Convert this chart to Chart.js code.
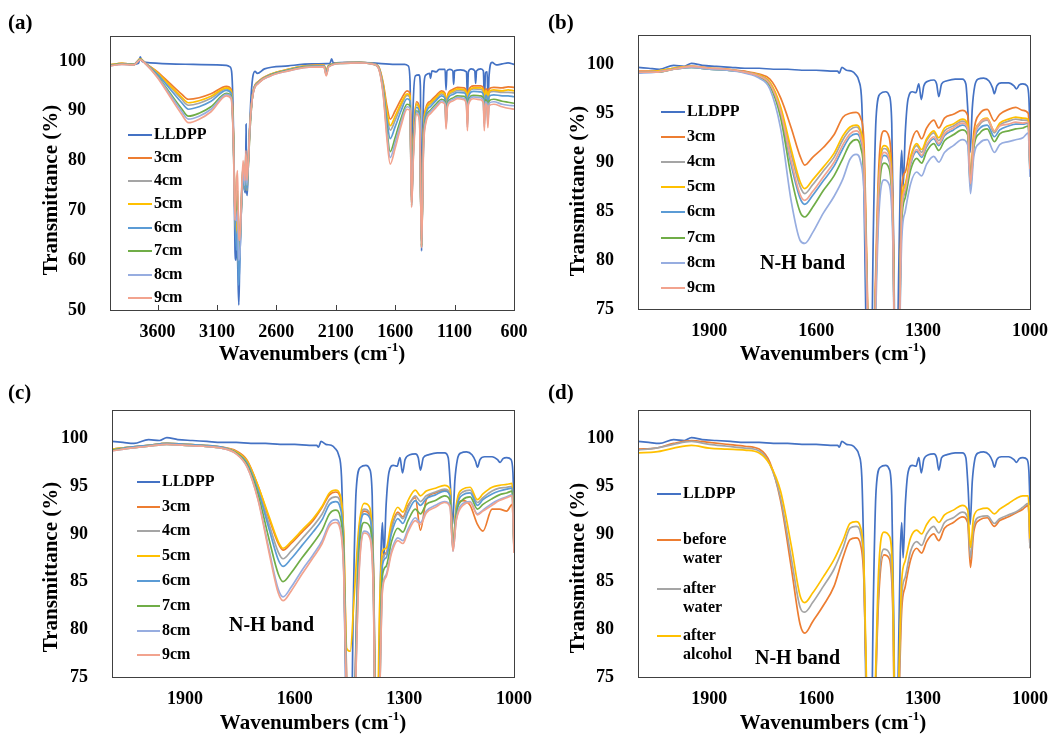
<!DOCTYPE html>
<html>
<head>
<meta charset="utf-8">
<script src="https://cdn.jsdelivr.net/npm/chart.js@4.4.1/dist/chart.umd.min.js"></script>
<style>
  html, body { margin: 0; padding: 0; background: #fff; }
  body { width: 1056px; height: 736px; overflow: hidden; position: relative; }
  canvas { position: absolute; }
</style>
</head>
<body>
<canvas id="panelA" width="560" height="368" style="left:0;top:0"></canvas>
<canvas id="panelC" width="560" height="368" style="left:0;top:368px"></canvas>
<canvas id="panelB" width="528" height="368" style="left:528px;top:0"></canvas>
<canvas id="panelD" width="528" height="368" style="left:528px;top:368px"></canvas>
<script>
// ---- panel (a): full range 4000-600 cm-1 ----
const xTicksA = [600, 1100, 1600, 2100, 2600, 3100, 3600];
const yTicksA = [50, 60, 70, 80, 90, 100];

const wnA_lldpp = [4000, 3900, 3800, 3760, 3745, 3730, 3700, 3500, 3300, 3100,
  3020, 2990, 2975, 2960, 2948, 2940, 2932, 2924, 2916, 2908,
  2895, 2880, 2868, 2860, 2855, 2850, 2845, 2835, 2815, 2800,
  2780, 2760, 2700, 2500, 2300, 2150, 2135, 2120, 2000, 1800,
  1600, 1520, 1490, 1475, 1462, 1450, 1430, 1400, 1388, 1378,
  1368, 1355, 1340, 1310, 1303, 1290, 1255, 1230, 1180, 1172,
  1164, 1140, 1115, 1108, 1100, 1050, 1000, 992, 984, 960,
  930, 923, 915, 880, 858, 849, 840, 826, 818, 810,
  785, 750, 700, 650, 600];
const tA_lldpp = [99.2, 99.4, 99.3, 99.5, 100.8, 99.9, 99.7, 99.4, 99.3, 99.2,
  99.1, 98.8, 97.5, 85, 62, 60, 66, 58, 51, 60,
  70, 76, 74, 73.5, 87.3, 74, 73, 80, 92, 96.5,
  97.9, 97.5, 98.4, 99.0, 99.4, 99.5, 100.4, 99.6, 99.7, 99.6,
  99.3, 99.3, 99.0, 96, 73, 90, 97.0, 97.2, 95, 61.8,
  85, 96.0, 97.2, 97.5, 96.5, 98.0, 97.8, 98.3, 98.3, 94.2,
  98.0, 98.3, 98.0, 95.3, 98.0, 98.2, 97.8, 92.7, 97.8, 98.4,
  98.0, 95.5, 98.0, 98.4, 98.0, 92.0, 97.6, 97.8, 91.3, 97.0,
  99.7, 99.2, 99.4, 99.6, 99.3];

const wnA = [4000, 3900, 3800, 3745, 3700, 3600, 3500, 3400, 3340, 3250,
  3150, 3020, 2980, 2962, 2948, 2935, 2927, 2918, 2908, 2895,
  2880, 2866, 2856, 2848, 2836, 2820, 2795, 2750, 2650, 2500,
  2350, 2200, 2180, 2160, 2050, 1900, 1780, 1740, 1700, 1670,
  1642, 1600, 1550, 1500, 1475, 1462, 1448, 1420, 1395, 1378,
  1362, 1340, 1300, 1250, 1210, 1180, 1172, 1160, 1120, 1075,
  1020, 1000, 992, 984, 940, 880, 858, 850, 840, 828,
  820, 810, 770, 700, 650, 600];
const tA_3cm = [99.2, 99.5, 99.3, 100.4, 99.5, 97.8, 95.6, 93.4, 92.3, 92.6,
  93.4, 94.9, 94.3, 86, 70, 66, 70, 60, 64, 71,
  78, 75, 80, 75, 80, 88, 94, 95.9, 97.3, 98.3,
  99.0, 99.2, 98.2, 99.1, 99.6, 99.7, 99.4, 98.9, 95.5, 91.0,
  88.3, 90.0, 92.3, 94.0, 93.5, 72, 84, 91.8, 90.5, 63,
  86, 90.7, 92.0, 93.2, 94.0, 93.5, 89.5, 93.0, 94.2, 94.7,
  94.6, 93.8, 91.0, 94.0, 95.0, 95.0, 94.6, 91.5, 94.4, 94.3,
  91.8, 94.4, 94.7, 94.6, 94.8, 94.7];
const tA_4cm = [99.2, 99.5, 99.3, 100.4, 99.5, 97.5, 95.0, 92.4, 91.1, 91.5,
  92.5, 94.4, 93.8, 85.5, 69.5, 66, 72, 62, 65, 72,
  79, 76, 81, 76, 81, 88, 93.9, 95.8, 97.2, 98.2,
  98.9, 99.1, 97.9, 99.0, 99.6, 99.7, 99.4, 98.8, 94.9, 89.4,
  86.1, 88.1, 91.0, 93.1, 92.6, 71.6, 83, 91.2, 89.9, 62.9,
  85, 90.0, 91.4, 92.6, 93.4, 92.9, 88.7, 92.5, 93.6, 94.1,
  94.0, 93.1, 89.8, 93.3, 94.4, 94.3, 93.9, 90.1, 93.7, 93.5,
  90.5, 93.6, 93.9, 93.7, 93.7, 93.6];
const tA_5cm = [99.2, 99.5, 99.3, 100.4, 99.5, 97.6, 95.2, 92.8, 91.6, 92.0,
  92.9, 94.6, 94.0, 85.7, 69.7, 64, 68, 58, 63, 70,
  77, 74, 79, 74, 79, 87, 93.9, 95.8, 97.3, 98.3,
  99.0, 99.1, 98.0, 99.1, 99.6, 99.7, 99.4, 98.8, 95.1, 90.0,
  87.0, 88.9, 91.5, 93.4, 93.0, 71.8, 83.4, 91.4, 90.1, 62.9,
  85.4, 90.3, 91.6, 92.8, 93.7, 93.2, 89.0, 92.7, 93.9, 94.4,
  94.2, 93.4, 90.2, 93.6, 94.6, 94.6, 94.2, 90.7, 94.0, 93.8,
  91.0, 93.9, 94.2, 94.0, 94.2, 94.0];
const tA_6cm = [99.1, 99.4, 99.3, 100.3, 99.5, 97.3, 94.5, 91.7, 90.3, 90.8,
  91.9, 94.1, 93.5, 85.1, 69.1, 62, 66, 55, 60, 70,
  77, 74, 79, 74, 79, 87, 93.8, 95.7, 97.2, 98.2,
  98.9, 99.0, 97.7, 99.0, 99.6, 99.7, 99.4, 98.7, 94.4, 88.2,
  84.4, 86.8, 90.0, 92.4, 92.0, 71.4, 82.3, 90.7, 89.4, 62.8,
  84.3, 89.4, 90.9, 92.2, 93.0, 92.5, 88.1, 92.1, 93.2, 93.7,
  93.6, 92.6, 88.8, 92.8, 93.9, 93.8, 93.3, 89.1, 93.1, 92.9,
  89.6, 92.9, 93.2, 93.0, 93.0, 92.8];
const tA_7cm = [99.1, 99.4, 99.2, 100.3, 99.4, 96.9, 93.7, 90.5, 88.9, 89.5,
  90.8, 93.5, 92.9, 84.6, 68.6, 70, 74, 63, 62, 71,
  79, 75, 81, 75, 80, 88, 93.6, 95.6, 97.1, 98.1,
  98.8, 98.9, 97.3, 98.9, 99.5, 99.6, 99.3, 98.6, 93.7, 86.3,
  81.8, 84.6, 88.5, 91.3, 91.0, 71.0, 81.1, 90.0, 88.7, 62.6,
  83.1, 88.5, 90.2, 91.5, 92.3, 91.8, 87.2, 91.4, 92.5, 93.0,
  92.9, 91.8, 87.4, 92.0, 93.1, 93.0, 92.4, 87.5, 92.2, 91.9,
  88.1, 92.0, 92.3, 91.9, 91.7, 91.5];
const tA_8cm = [99.0, 99.3, 99.2, 100.2, 99.4, 96.8, 93.4, 90.0, 88.3, 88.9,
  90.3, 93.3, 92.7, 84.3, 68.3, 68, 70, 60, 61, 70,
  78, 75, 80, 75, 80, 88, 93.6, 95.6, 97.0, 98.0,
  98.7, 98.9, 97.2, 98.8, 99.5, 99.6, 99.3, 98.6, 93.4, 85.4,
  80.6, 83.6, 87.7, 90.8, 90.5, 70.8, 80.6, 89.7, 88.4, 62.6,
  82.6, 88.1, 89.9, 91.1, 92.0, 91.5, 86.7, 91.1, 92.2, 92.7,
  92.5, 91.4, 86.7, 91.6, 92.8, 92.6, 92.0, 86.8, 91.8, 91.5,
  87.3, 91.5, 91.8, 91.3, 91.1, 91.0];
const tA_9cm = [99.0, 99.3, 99.2, 100.2, 99.4, 96.6, 93.0, 89.4, 87.6, 88.3,
  89.8, 93.0, 92.4, 84, 68, 76, 78, 66, 64, 72,
  80, 76, 82, 76, 80, 88, 93.5, 95.5, 97.0, 98.0,
  98.7, 98.8, 97.0, 98.8, 99.5, 99.6, 99.3, 98.5, 93.0, 84.5,
  79.3, 82.5, 87.0, 90.3, 90.0, 70.6, 80, 89.3, 88.0, 62.5,
  82, 87.7, 89.5, 90.8, 91.7, 91.2, 86.3, 90.8, 91.9, 92.4,
  92.2, 91.0, 86.0, 91.2, 92.4, 92.2, 91.6, 86.0, 91.4, 91.0,
  86.6, 91.0, 91.3, 90.8, 90.5, 90.3];

// ---- panels (b)-(d): 2100-1000 cm-1 ----
const xTicksZoom = [1000, 1300, 1600, 1900];
const yTicksZoom = [75, 80, 85, 90, 95, 100];

const wnZ_lldpp = [2100, 2070, 2040, 2000, 1970, 1950, 1920, 1880, 1840, 1800,
  1760, 1720, 1680, 1640, 1600, 1560, 1540, 1535, 1528, 1515,
  1500, 1490, 1480, 1472, 1465, 1458, 1448, 1440, 1432, 1420,
  1405, 1395, 1388, 1382, 1376, 1370, 1364, 1360, 1356, 1350,
  1342, 1330, 1320, 1312, 1305, 1298, 1285, 1270, 1262, 1256,
  1248, 1235, 1210, 1190, 1180, 1174, 1168, 1162, 1155, 1145,
  1130, 1115, 1105, 1100, 1093, 1080, 1060, 1045, 1038, 1030,
  1020, 1008, 1003, 1000];
const tZ_lldpp = [99.7, 99.6, 99.5, 99.9, 99.8, 100.1, 99.9, 99.8, 99.7, 99.6,
  99.6, 99.5, 99.5, 99.4, 99.4, 99.3, 99.3, 99.1, 99.7, 99.4,
  99.3, 99.0, 98.3, 96.0, 85, 68, 60, 82, 94.5, 97.0,
  97.2, 96.8, 94, 80, 60, 75, 88, 91.2, 87.5, 93,
  96.5, 97.2, 97.1, 98.0, 96.4, 97.8, 98.3, 98.4, 98.0, 96.7,
  98.0, 98.3, 98.5, 98.5, 98.0, 95, 91.0, 95.5, 97.8, 98.5,
  98.6, 98.3, 97.6, 97.0, 97.8, 98.1, 98.1, 97.8, 97.5, 97.9,
  98.0, 97.8, 96.5, 93.0];

const wnZ = [2100, 2050, 2000, 1950, 1900, 1850, 1800, 1760, 1730, 1700,
  1670, 1645, 1632, 1610, 1580, 1550, 1525, 1505, 1488, 1475,
  1466, 1458, 1448, 1438, 1425, 1410, 1395, 1385, 1376, 1368,
  1360, 1350, 1335, 1318, 1304, 1290, 1270, 1256, 1240, 1215,
  1190, 1175, 1167, 1158, 1140, 1120, 1100, 1085, 1060, 1040,
  1020, 1005, 1000];

// (b)
const tB_3cm = [99.3, 99.3, 99.6, 99.8, 99.6, 99.5, 99.3, 99.0, 98.5, 96.6,
  93.5, 90.6, 89.7, 90.5, 91.5, 92.8, 94.6, 95.0, 95.1, 94.5,
  92, 80, 62, 72, 89, 93.2, 92.5, 86, 62, 70,
  87.5, 89, 91.8, 93.2, 92.4, 93.5, 94.3, 93.5, 94.5, 94.9,
  95.3, 94.8, 88.6, 93.0, 95.0, 95.4, 94.2, 94.9, 95.4, 95.6,
  95.3, 95.0, 90.0];
const tB_4cm = [99.2, 99.3, 99.6, 99.8, 99.6, 99.5, 99.2, 98.9, 98.1, 95.5,
  90.8, 87.5, 86.8, 87.7, 89.1, 90.5, 92.3, 93.3, 93.6, 92.9,
  90.2, 78.6, 61.3, 70.6, 87.2, 91.4, 90.8, 84.6, 61.3, 69.3,
  85.5, 87.6, 90.4, 91.7, 91.0, 92.2, 93.0, 92.2, 93.2, 93.7,
  94.2, 93.7, 88.0, 92.1, 93.9, 94.3, 93.0, 93.8, 94.2, 94.4,
  94.3, 94.3, 89.5];
const tB_5cm = [99.2, 99.3, 99.6, 99.8, 99.6, 99.5, 99.2, 98.9, 98.2, 95.7,
  91.3, 88.0, 87.3, 88.2, 89.5, 90.9, 92.7, 93.6, 93.8, 93.2,
  90.5, 78.8, 61.4, 70.8, 87.5, 91.7, 91.1, 84.8, 61.4, 69.4,
  85.9, 87.8, 90.6, 91.9, 91.3, 92.4, 93.2, 92.5, 93.5, 93.9,
  94.4, 93.9, 88.1, 92.3, 94.1, 94.5, 93.2, 94.0, 94.4, 94.6,
  94.5, 94.4, 89.6];
const tB_6cm = [99.2, 99.2, 99.5, 99.7, 99.5, 99.4, 99.2, 98.8, 98.0, 95.0,
  89.7, 86.3, 85.7, 86.6, 88.1, 89.6, 91.4, 92.6, 92.9, 92.2,
  89.5, 78, 61, 70, 86.5, 90.7, 90.1, 84, 61, 69,
  84.7, 87, 89.8, 91.1, 90.5, 91.6, 92.4, 91.7, 92.7, 93.3,
  93.8, 93.3, 87.7, 91.7, 93.5, 93.8, 92.6, 93.3, 93.7, 93.9,
  93.9, 94.0, 89.2];
const tB_7cm = [99.2, 99.2, 99.5, 99.7, 99.5, 99.4, 99.2, 98.7, 97.8, 94.6,
  88.5, 84.9, 84.4, 85.4, 87.1, 88.6, 90.4, 91.9, 92.3, 91.5,
  88.7, 77.4, 60.7, 69.4, 85.7, 89.9, 89.3, 83.4, 60.7, 68.7,
  83.9, 86.4, 89.2, 90.4, 89.9, 91.1, 91.9, 91.2, 92.2, 92.8,
  93.3, 92.8, 87.4, 91.4, 93.0, 93.4, 92.1, 92.9, 93.2, 93.4,
  93.5, 93.7, 89.0];
const tB_8cm = [99.1, 99.2, 99.5, 99.7, 99.5, 99.4, 99.1, 98.6, 97.5, 93.5,
  86.0, 82.0, 81.7, 82.8, 84.8, 86.5, 88.3, 90.3, 90.8, 90.0,
  87, 76, 60, 68, 84, 88.2, 87.7, 82, 60, 68,
  82, 85, 87.8, 89.0, 88.6, 89.8, 90.6, 90.0, 91.0, 91.7,
  92.3, 91.8, 86.8, 90.5, 92.0, 92.3, 91.0, 91.8, 92.1, 92.3,
  92.5, 93.0, 88.5];
const tB_9cm = [99.2, 99.2, 99.5, 99.8, 99.6, 99.5, 99.2, 98.8, 98.0, 95.2,
  90.1, 86.7, 86.1, 87.0, 88.5, 90.0, 91.8, 92.9, 93.2, 92.5,
  89.8, 78.2, 61.1, 70.2, 86.8, 91.0, 90.3, 84.2, 61.1, 69.1,
  85.0, 87.2, 90.0, 91.3, 90.7, 91.8, 92.6, 91.9, 92.9, 93.5,
  94.0, 93.5, 87.8, 91.9, 94.1, 94.4, 93.2, 93.7, 93.9, 94.1,
  94.0, 94.1, 89.3];

// (c)
const tC_3cm = [98.9, 99.1, 99.3, 99.5, 99.4, 99.3, 99.1, 98.7, 97.7, 95.0,
  91.6, 89.0, 88.3, 89.0, 90.2, 91.4, 92.8, 94.1, 94.4, 93.8,
  89.6, 75, 62, 70, 89.5, 92.4, 92.0, 86.5, 61, 75,
  87.5, 88.0, 90.8, 92.3, 91.8, 93.0, 93.8, 90.4, 93.6, 94.3,
  94.6, 94.1, 88.7, 92.5, 93.5, 93.0, 91.0, 90.3, 92.6, 92.6,
  92.4, 93.1, 88.5];
const tC_4cm = [98.9, 99.1, 99.3, 99.5, 99.4, 99.3, 99.1, 98.6, 97.5, 94.7,
  91.0, 88.1, 87.4, 88.2, 89.5, 90.8, 92.1, 93.6, 93.9, 93.3,
  89.2, 74, 61, 69, 89.4, 92.6, 92.2, 86.4, 61, 74,
  87.4, 87.9, 90.6, 92.1, 91.6, 92.8, 94.0, 93.4, 94.0, 94.4,
  94.7, 94.3, 88.7, 92.7, 94.4, 94.6, 93.3, 93.8, 94.5, 94.8,
  94.9, 95.0, 88.8];
const tC_5cm = [98.9, 99.1, 99.3, 99.5, 99.4, 99.3, 99.1, 98.6, 97.6, 95.0,
  91.8, 89.2, 88.5, 89.2, 90.4, 91.6, 92.9, 94.3, 94.6, 94.0,
  90, 78, 77.7, 83, 90.5, 93.2, 92.8, 87, 65, 82,
  88.2, 88.5, 91.3, 92.8, 92.3, 93.5, 94.6, 94.0, 94.5, 94.8,
  95.1, 94.7, 88.8, 93.0, 94.7, 94.9, 93.6, 94.2, 94.9, 95.1,
  95.2, 95.3, 89.0];
const tC_6cm = [98.8, 99.1, 99.3, 99.5, 99.4, 99.3, 99.1, 98.5, 97.4, 94.5,
  90.5, 87.3, 86.6, 87.4, 88.8, 90.2, 91.5, 93.1, 93.4, 92.7,
  88.6, 73, 61, 69, 88.6, 92.1, 91.7, 86.0, 61, 73,
  86.7, 87.5, 90.1, 91.6, 91.1, 92.3, 93.5, 93.0, 93.7, 94.1,
  94.5, 94.0, 88.6, 92.4, 94.1, 94.3, 93.0, 93.6, 94.2, 94.5,
  94.7, 94.8, 88.7];
const tC_7cm = [98.8, 99.0, 99.2, 99.4, 99.3, 99.2, 99.0, 98.5, 97.2, 94.1,
  89.4, 85.8, 85.0, 85.9, 87.5, 89.0, 90.4, 92.1, 92.5, 91.7,
  87.5, 72, 60, 68, 87.0, 91.2, 90.8, 85.1, 60, 72,
  85.6, 86.6, 89.2, 90.6, 90.2, 91.4, 92.6, 92.1, 93.1, 93.5,
  94.0, 93.5, 88.4, 92.0, 93.6, 93.9, 92.6, 93.1, 93.7, 94.1,
  94.3, 94.5, 88.4];
const tC_8cm = [98.7, 99.0, 99.2, 99.4, 99.3, 99.2, 99.0, 98.4, 97.0, 93.6,
  88.3, 84.2, 83.4, 84.4, 86.2, 87.8, 89.3, 91.1, 91.5, 90.7,
  86.3, 72, 60, 68, 85.4, 90.3, 89.9, 84.2, 60, 72,
  84.3, 85.7, 88.3, 89.6, 89.3, 90.5, 91.7, 91.2, 92.4, 93.0,
  93.4, 93.0, 88.2, 91.5, 93.2, 93.4, 92.1, 92.5, 93.2, 93.6,
  93.9, 94.1, 88.1];
const tC_9cm = [98.7, 99.0, 99.2, 99.4, 99.3, 99.2, 99.0, 98.4, 97.0, 93.5,
  88.0, 83.8, 83.0, 84.0, 85.8, 87.5, 89.0, 90.8, 91.2, 90.4,
  86, 72, 60, 68, 85, 90.1, 89.6, 84, 60, 72,
  84, 85.5, 88.0, 89.3, 89.0, 90.2, 91.4, 91.0, 92.2, 92.8,
  93.3, 92.8, 88.2, 91.4, 93.0, 93.3, 92.0, 92.4, 93.0, 93.5,
  93.8, 94.0, 88.0];

// (d)
const tD_beforeWater = [98.9, 99.0, 99.5, 99.8, 99.6, 99.4, 99.2, 98.9, 97.5, 93.5,
  86.5, 80.5, 79.6, 80.8, 82.5, 84.5, 87.5, 89.4, 89.6, 88.8,
  85, 72, 60, 68, 83, 87.8, 87.4, 82, 60, 72,
  82.0, 84.5, 87.3, 88.5, 88.0, 89.2, 90.0, 89.3, 90.6, 91.2,
  91.8, 91.2, 86.5, 90.2, 91.5, 91.7, 90.8, 91.4, 91.8, 92.2,
  92.6, 93.0, 88.5];
const tD_afterWater = [98.8, 99.0, 99.4, 99.7, 99.4, 99.2, 99.0, 98.7, 97.3, 93.8,
  87.5, 82.3, 81.8, 82.8, 84.5, 86.3, 88.5, 90.6, 90.8, 90.0,
  86, 72, 60, 68, 84, 88.4, 88.0, 83, 60, 73,
  83.5, 85.5, 88.2, 89.2, 88.8, 90.0, 90.8, 90.1, 91.2, 91.7,
  92.3, 91.7, 87.5, 90.8, 91.8, 91.9, 91.1, 91.6, 92.0, 92.3,
  92.8, 93.2, 88.5];
const tD_afterAlcohol = [98.5, 98.6, 99.0, 99.3, 99.0, 98.9, 98.8, 98.5, 97.3, 94.5,
  88.8, 83.5, 82.8, 83.8, 85.5, 87.3, 89.3, 91.1, 91.3, 90.6,
  87, 73, 60, 69, 86, 90.2, 89.8, 85, 61, 75,
  85.1, 87.2, 89.6, 90.4, 90.0, 91.0, 91.8, 91.2, 92.0, 92.5,
  93.0, 92.5, 88.6, 91.8, 92.6, 92.7, 92.1, 92.6, 93.2, 93.7,
  94.0, 94.0, 89.5];

const C = {
  lldpp: '#4472C4', c3: '#ED7D31', c4: '#A5A5A5', c5: '#FFC000',
  c6: '#5B9BD5', c7: '#70AD47', c8: '#97ADE0', c9: '#F2A38E'
};
const SERIF = '"Liberation Serif", "Times New Roman", serif';

function pairs(xs, ys) {
  return xs.map((x, i) => ({ x: x, y: ys[i] }));
}

const panelDecor = {
  id: 'panelDecor',
  afterDatasetsDraw(chart, args, o) {
    const ctx = chart.ctx, a = chart.chartArea;
    ctx.save();
    ctx.strokeStyle = '#404040';
    ctx.lineWidth = 1;
    ctx.strokeRect(Math.round(a.left) + 0.5, Math.round(a.top) + 0.5,
      Math.round(a.right - a.left), Math.round(a.bottom - a.top));
    if (o.tickMarks) {
      const xs = chart.scales.x;
      ctx.beginPath();
      xs.ticks.forEach(t => {
        const px = Math.round(xs.getPixelForValue(t.value)) + 0.5;
        ctx.moveTo(px, a.bottom);
        ctx.lineTo(px, a.bottom - 5);
      });
      ctx.stroke();
    }
    // legend inside the plot
    ctx.textBaseline = 'middle';
    ctx.textAlign = 'left';
    ctx.font = 'bold 16px ' + SERIF;
    chart.data.datasets.forEach((ds, i) => {
      const y = o.legendY[i];
      ctx.strokeStyle = ds.borderColor;
      ctx.lineWidth = 2;
      ctx.beginPath();
      ctx.moveTo(o.legendX, y);
      ctx.lineTo(o.legendX + o.legendLen, y);
      ctx.stroke();
      ctx.fillStyle = '#000';
      ds.label.split(' ').forEach((line, k) => {
        ctx.fillText(line, o.legendX + o.legendLen + 2, y + k * 19);
      });
    });
    if (o.band) {
      ctx.font = 'bold 20px ' + SERIF;
      ctx.fillText('N-H band', o.band[0], o.band[1]);
    }
    ctx.restore();
  },
  afterDraw(chart, args, o) {
    const ctx = chart.ctx;
    ctx.save();
    ctx.fillStyle = '#000';
    ctx.textBaseline = 'middle';
    // panel tag
    ctx.textAlign = 'left';
    ctx.font = 'bold 21px ' + SERIF;
    ctx.fillText(o.tag, o.tagPos[0], o.tagPos[1]);
    // x title with superscript
    const main = 'Wavenumbers (cm', sup = '-1', end = ')';
    const big = 'bold 21px ' + SERIF, small = 'bold 13px ' + SERIF;
    ctx.font = big;
    const w1 = ctx.measureText(main).width, w3 = ctx.measureText(end).width;
    ctx.font = small;
    const w2 = ctx.measureText(sup).width;
    let x = o.xTitle[0] - (w1 + w2 + w3) / 2;
    const y = o.xTitle[1];
    ctx.font = big;
    ctx.fillText(main, x, y);
    ctx.font = small;
    ctx.fillText(sup, x + w1, y - 7);
    ctx.font = big;
    ctx.fillText(end, x + w1 + w2, y);
    // y title
    ctx.translate(o.yTitle[0], o.yTitle[1]);
    ctx.rotate(-Math.PI / 2);
    ctx.textAlign = 'center';
    ctx.fillText('Transmittance (%)', 0, 0);
    ctx.restore();
  }
};

function makePanel(id, p) {
  const canvas = document.getElementById(id);
  const W = canvas.width, H = canvas.height;
  const n = p.series.length;
  const tickFont = { family: SERIF, size: 18, weight: 'bold' };
  return new Chart(canvas, {
    type: 'line',
    data: {
      datasets: p.series.map((s, i) => ({
        label: s.label,
        data: pairs(s.x, s.y),
        borderColor: s.color,
        borderWidth: 1.7,
        pointRadius: 0,
        fill: false,
        cubicInterpolationMode: 'monotone',
        order: n - 1 - i
      }))
    },
    options: {
      responsive: false,
      animation: false,
      devicePixelRatio: 1,
      layout: { padding: { left: 0, top: p.area.top, right: W - p.area.right, bottom: 0 } },
      plugins: {
        legend: { display: false },
        tooltip: { enabled: false },
        panelDecor: p.decor
      },
      scales: {
        x: {
          type: 'linear',
          reverse: true,
          min: p.xMin,
          max: p.xMax,
          grid: { display: false },
          border: { display: false },
          ticks: {
            font: tickFont, color: '#000', padding: 4, autoSkip: false, maxRotation: 0,
            callback: v => String(v)
          },
          afterBuildTicks: s => { s.ticks = p.xTicks.map(v => ({ value: v })); },
          afterFit: s => { s.height = H - p.area.bottom; }
        },
        y: {
          type: 'linear',
          min: p.yMin,
          max: p.yMax,
          grid: { display: false },
          border: { display: false },
          ticks: { font: tickFont, color: '#000', padding: 16, callback: v => String(v) },
          afterBuildTicks: s => { s.ticks = p.yTicks.map(v => ({ value: v })); },
          afterFit: s => { s.width = p.area.left; }
        }
      }
    },
    plugins: [panelDecor]
  });
}

makePanel('panelA', {
  area: { left: 110, top: 36, right: 514, bottom: 310 },
  xMin: 600, xMax: 4000, yMin: 50, yMax: 105,
  xTicks: xTicksA, yTicks: yTicksA,
  series: [
    { label: 'LLDPP', color: C.lldpp, x: wnA_lldpp, y: tA_lldpp },
    { label: '3cm', color: C.c3, x: wnA, y: tA_3cm },
    { label: '4cm', color: C.c4, x: wnA, y: tA_4cm },
    { label: '5cm', color: C.c5, x: wnA, y: tA_5cm },
    { label: '6cm', color: C.c6, x: wnA, y: tA_6cm },
    { label: '7cm', color: C.c7, x: wnA, y: tA_7cm },
    { label: '8cm', color: C.c8, x: wnA, y: tA_8cm },
    { label: '9cm', color: C.c9, x: wnA, y: tA_9cm }
  ],
  decor: {
    tag: '(a)', tagPos: [8, 24], tickMarks: true,
    legendX: 128, legendLen: 24, legendY: [135, 158, 181, 204, 228, 251, 275, 298],
    xTitle: [312, 355], yTitle: [52, 190], band: null
  }
});

makePanel('panelB', {
  area: { left: 110, top: 35, right: 502, bottom: 309 },
  xMin: 1000, xMax: 2100, yMin: 75, yMax: 103,
  xTicks: xTicksZoom, yTicks: yTicksZoom,
  series: [
    { label: 'LLDPP', color: C.lldpp, x: wnZ_lldpp, y: tZ_lldpp },
    { label: '3cm', color: C.c3, x: wnZ, y: tB_3cm },
    { label: '4cm', color: C.c4, x: wnZ, y: tB_4cm },
    { label: '5cm', color: C.c5, x: wnZ, y: tB_5cm },
    { label: '6cm', color: C.c6, x: wnZ, y: tB_6cm },
    { label: '7cm', color: C.c7, x: wnZ, y: tB_7cm },
    { label: '8cm', color: C.c8, x: wnZ, y: tB_8cm },
    { label: '9cm', color: C.c9, x: wnZ, y: tB_9cm }
  ],
  decor: {
    tag: '(b)', tagPos: [20, 24], tickMarks: false,
    legendX: 133, legendLen: 24, legendY: [112, 137, 162, 187, 212, 238, 263, 288],
    xTitle: [305, 355], yTitle: [51, 191], band: [232, 264]
  }
});

makePanel('panelC', {
  area: { left: 112, top: 42, right: 514, bottom: 309 },
  xMin: 1000, xMax: 2100, yMin: 75, yMax: 103,
  xTicks: xTicksZoom, yTicks: yTicksZoom,
  series: [
    { label: 'LLDPP', color: C.lldpp, x: wnZ_lldpp, y: tZ_lldpp },
    { label: '3cm', color: C.c3, x: wnZ, y: tC_3cm },
    { label: '4cm', color: C.c4, x: wnZ, y: tC_4cm },
    { label: '5cm', color: C.c5, x: wnZ, y: tC_5cm },
    { label: '6cm', color: C.c6, x: wnZ, y: tC_6cm },
    { label: '7cm', color: C.c7, x: wnZ, y: tC_7cm },
    { label: '8cm', color: C.c8, x: wnZ, y: tC_8cm },
    { label: '9cm', color: C.c9, x: wnZ, y: tC_9cm }
  ],
  decor: {
    tag: '(c)', tagPos: [8, 26], tickMarks: false,
    legendX: 137, legendLen: 23, legendY: [114, 139, 163, 188, 213, 238, 263, 287],
    xTitle: [313, 356], yTitle: [52, 199], band: [229, 258]
  }
});

makePanel('panelD', {
  area: { left: 110, top: 42, right: 502, bottom: 309 },
  xMin: 1000, xMax: 2100, yMin: 75, yMax: 103,
  xTicks: xTicksZoom, yTicks: yTicksZoom,
  series: [
    { label: 'LLDPP', color: C.lldpp, x: wnZ_lldpp, y: tZ_lldpp },
    { label: 'before water', color: C.c3, x: wnZ, y: tD_beforeWater },
    { label: 'after water', color: C.c4, x: wnZ, y: tD_afterWater },
    { label: 'after alcohol', color: C.c5, x: wnZ, y: tD_afterAlcohol }
  ],
  decor: {
    tag: '(d)', tagPos: [20, 26], tickMarks: false,
    legendX: 129, legendLen: 24, legendY: [126, 172, 221, 268],
    xTitle: [305, 356], yTitle: [51, 200], band: [227, 291]
  }
});
</script>
</body>
</html>
